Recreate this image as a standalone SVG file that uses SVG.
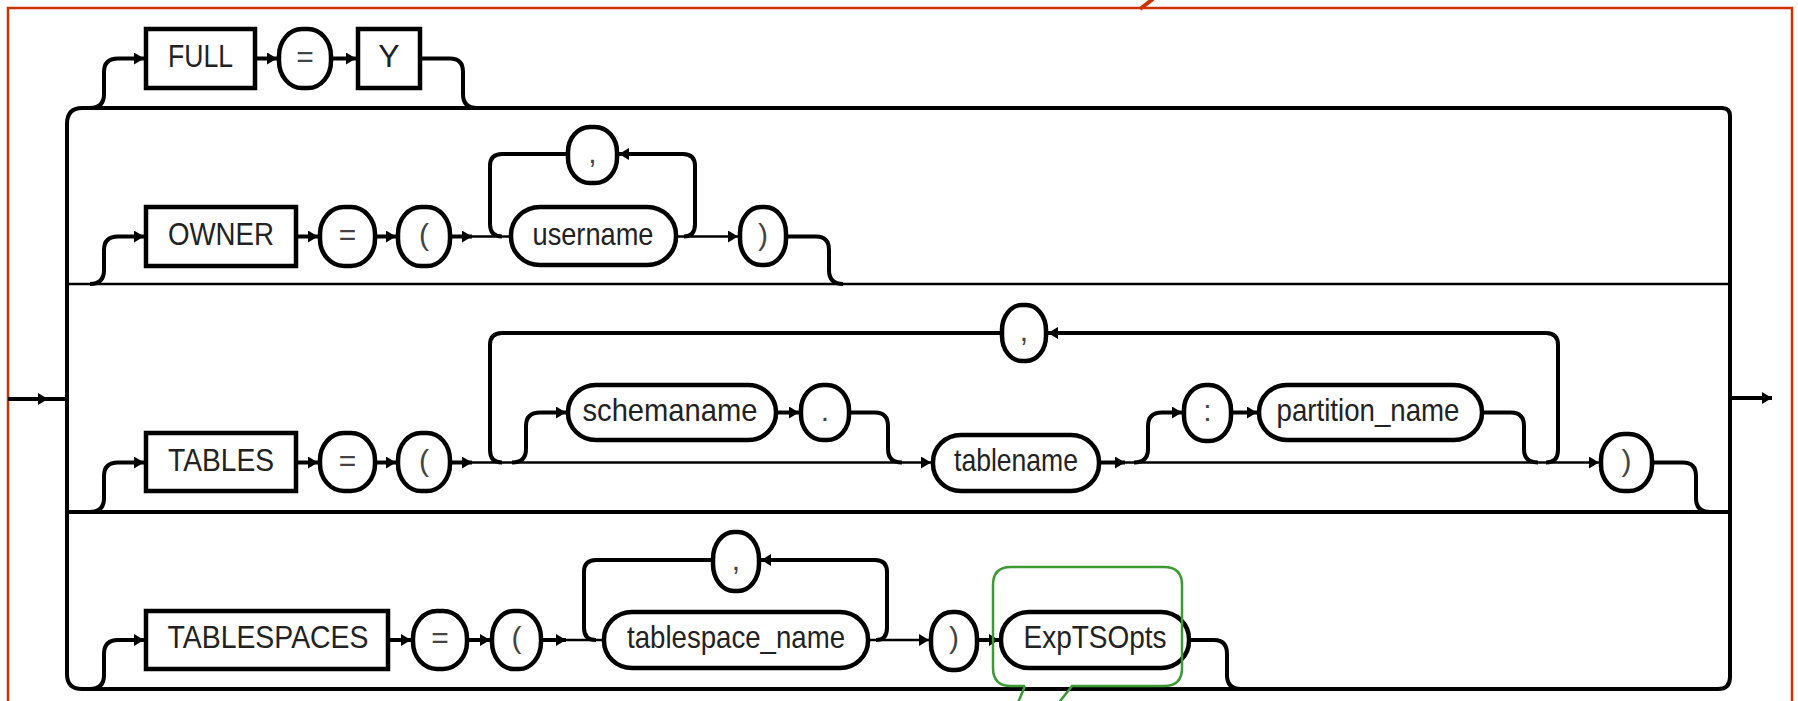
<svg xmlns="http://www.w3.org/2000/svg" width="1798" height="701" viewBox="0 0 1798 701">
<style>
.bx{fill:#fff;stroke:#000;stroke-width:4.5}
.ln{fill:none;stroke:#000;stroke-width:4}
.tn{fill:none;stroke:#000;stroke-width:2.5}
.t{font-family:"Liberation Sans",Arial,sans-serif;font-size:32px;fill:#222;text-anchor:middle}
.p{font-family:"Liberation Sans",Arial,sans-serif;font-size:30px;fill:#444;text-anchor:middle}
</style>
<defs>
<marker id="ah" viewBox="0 0 10 12" refX="10" refY="6" markerWidth="10" markerHeight="12" markerUnits="userSpaceOnUse" orient="auto"><path d="M0 0 L10 6 L0 12 Z" fill="#000"/></marker>
</defs>
<rect x="8" y="8" width="1784" height="720" fill="none" stroke="#cc3300" stroke-width="2.5"/>
<line x1="1140" y1="9" x2="1153" y2="-1" stroke="#cc3300" stroke-width="4"/>
<g id="connectors">
<path class="ln" d="M67 124 Q67 108 82 108 L1722 108 Q1730 108 1730 116 L1730 677 Q1730 689 1718 689 L82 689 Q67 689 67 674 Z"/>
<path class="tn" d="M67 284 L1730 284"/>
<path class="ln" d="M67 512 L1730 512"/>
<path class="ln" d="M8 399 L48 399" marker-end="url(#ah)"/>
<path class="ln" d="M44 399 L67 399"/>
<path class="ln" d="M1730 398 L1772 398" marker-end="url(#ah)"/>
<!-- FULL row -->
<path class="ln" d="M90 108 Q104 108 104 94 L104 72 Q104 58.5 118 58.5 L144 58.5" marker-end="url(#ah)"/>
<path class="ln" d="M257 58.5 L277 58.5" marker-end="url(#ah)"/>
<path class="ln" d="M333 58.5 L356 58.5" marker-end="url(#ah)"/>
<path class="ln" d="M422 58.5 L450 58.5 Q463 58.5 463 72 L463 94 Q463 108 477 108"/>
<!-- OWNER row -->
<path class="ln" d="M90 284 Q104 284 104 270 L104 250 Q104 236.5 118 236.5 L144 236.5" marker-end="url(#ah)"/>
<path class="ln" d="M298 236.5 L318 236.5" marker-end="url(#ah)"/>
<path class="ln" d="M377 236.5 L396 236.5" marker-end="url(#ah)"/>
<path class="ln" d="M452 236.5 L472 236.5" marker-end="url(#ah)"/>
<path class="tn" d="M468 236.5 L509 236.5"/>
<path class="ln" d="M502 236.5 Q490 236.5 490 224 L490 166 Q490 154 502 154 L566 154"/>
<path class="ln" d="M684 236.5 Q695 236.5 695 224 L695 166 Q695 154 683 154 L619 154" marker-end="url(#ah)"/>
<path class="tn" d="M678 236.5 L738 236.5" marker-end="url(#ah)"/>
<path class="ln" d="M788 236.5 L816 236.5 Q829 236.5 829 250 L829 270 Q829 284 843 284"/>
<!-- TABLES row -->
<path class="ln" d="M90 512 Q104 512 104 498 L104 476 Q104 462.5 118 462.5 L144 462.5" marker-end="url(#ah)"/>
<path class="ln" d="M298 462.5 L318 462.5" marker-end="url(#ah)"/>
<path class="ln" d="M377 462.5 L396 462.5" marker-end="url(#ah)"/>
<path class="ln" d="M452 462.5 L472 462.5" marker-end="url(#ah)"/>
<path class="tn" d="M468 462.5 L931 462.5" marker-end="url(#ah)"/>
<path class="ln" d="M1000 333 L502 333 Q490 333 490 345 L490 450 Q490 462.5 502 462.5"/>
<path class="ln" d="M1546 462.5 Q1558 462.5 1558 450 L1558 345 Q1558 333 1546 333 L1048 333" marker-end="url(#ah)"/>
<path class="ln" d="M512 462.5 Q526 462.5 526 449 L526 426 Q526 412.5 540 412.5 L566 412.5" marker-end="url(#ah)"/>
<path class="ln" d="M778 412.5 L799 412.5" marker-end="url(#ah)"/>
<path class="ln" d="M851 412.5 L875 412.5 Q888 412.5 888 426 L888 449 Q888 462.5 902 462.5"/>
<path class="ln" d="M1101 462.5 L1125 462.5" marker-end="url(#ah)"/>
<path class="tn" d="M1121 462.5 L1599 462.5" marker-end="url(#ah)"/>
<path class="ln" d="M1134 462.5 Q1148 462.5 1148 449 L1148 426 Q1148 412.5 1162 412.5 L1182 412.5" marker-end="url(#ah)"/>
<path class="ln" d="M1233 412.5 L1257 412.5" marker-end="url(#ah)"/>
<path class="ln" d="M1484 412.5 L1511 412.5 Q1524 412.5 1524 426 L1524 449 Q1524 462.5 1538 462.5"/>
<path class="ln" d="M1654 462.5 L1683 462.5 Q1696 462.5 1696 476 L1696 498 Q1696 512 1710 512"/>
<!-- TABLESPACES row -->
<path class="ln" d="M90 689 Q104 689 104 675 L104 654 Q104 640 118 640 L144 640" marker-end="url(#ah)"/>
<path class="ln" d="M390 640 L411 640" marker-end="url(#ah)"/>
<path class="ln" d="M469 640 L490 640" marker-end="url(#ah)"/>
<path class="ln" d="M543 640 L566 640" marker-end="url(#ah)"/>
<path class="tn" d="M562 640 L602 640"/>
<path class="ln" d="M711 560 L596 560 Q584 560 584 572 L584 628 Q584 640 596 640"/>
<path class="ln" d="M876 640 Q887 640 887 628 L887 572 Q887 560 875 560 L761 560" marker-end="url(#ah)"/>
<path class="tn" d="M870 640 L929 640" marker-end="url(#ah)"/>
<path class="ln" d="M979 640 L999 640" marker-end="url(#ah)"/>
<path class="ln" d="M1191 640 L1214 640 Q1227 640 1227 654 L1227 675 Q1227 689 1241 689"/>
</g>
<!-- FULL row nodes -->
<g id="full"><rect class="bx" x="146" y="29" width="109" height="59"/><text class="t" x="200.5" y="66.5" textLength="65" lengthAdjust="spacingAndGlyphs">FULL</text></g>
<g id="full-eq"><rect class="bx" x="279" y="29" width="52" height="59" rx="23" ry="27"/><text class="p" x="305" y="66.5">=</text></g>
<g id="full-y"><rect class="bx" x="358" y="29" width="62" height="59"/><text class="t" x="389" y="66.5">Y</text></g>
<!-- OWNER row nodes -->
<g id="owner"><rect class="bx" x="146" y="207" width="150" height="59"/><text class="t" x="221" y="244.5" textLength="106" lengthAdjust="spacingAndGlyphs">OWNER</text></g>
<g id="owner-eq"><rect class="bx" x="320" y="207" width="55" height="59" rx="24" ry="27"/><text class="p" x="347.5" y="244.5">=</text></g>
<g id="owner-lp"><rect class="bx" x="398" y="207" width="52" height="59" rx="23" ry="27"/><text class="p" x="424" y="244.5">(</text></g>
<g id="owner-comma"><rect class="bx" x="568" y="127" width="49" height="56" rx="22" ry="25"/><text class="p" x="592.5" y="163">,</text></g>
<g id="username"><rect class="bx" x="511" y="207" width="165" height="58" rx="29" ry="28"/><text class="t" x="593" y="244.5" textLength="121" lengthAdjust="spacingAndGlyphs">username</text></g>
<g id="owner-rp"><rect class="bx" x="740" y="207" width="46" height="58" rx="21" ry="26"/><text class="p" x="763" y="244.5">)</text></g>
<!-- TABLES row nodes -->
<g id="tables"><rect class="bx" x="146" y="433" width="150" height="58"/><text class="t" x="221" y="470.5" textLength="106" lengthAdjust="spacingAndGlyphs">TABLES</text></g>
<g id="tables-eq"><rect class="bx" x="320" y="433" width="55" height="58" rx="24" ry="27"/><text class="p" x="347.5" y="470.5">=</text></g>
<g id="tables-lp"><rect class="bx" x="398" y="433" width="52" height="58" rx="23" ry="27"/><text class="p" x="424" y="470.5">(</text></g>
<g id="tables-comma"><rect class="bx" x="1002" y="305" width="44" height="56" rx="20" ry="25"/><text class="p" x="1024" y="341">,</text></g>
<g id="schemaname"><rect class="bx" x="568" y="385" width="208" height="55" rx="28" ry="27"/><text class="t" x="670" y="420.5" textLength="175" lengthAdjust="spacingAndGlyphs">schemaname</text></g>
<g id="dot"><rect class="bx" x="801" y="385" width="48" height="55" rx="22" ry="25"/><text class="p" x="825" y="420.5">.</text></g>
<g id="tablename"><rect class="bx" x="933" y="435" width="166" height="56" rx="28" ry="27"/><text class="t" x="1016" y="471" textLength="124" lengthAdjust="spacingAndGlyphs">tablename</text></g>
<g id="colon"><rect class="bx" x="1184" y="385" width="47" height="56" rx="22" ry="25"/><text class="p" x="1207.5" y="420.5">:</text></g>
<g id="partition_name"><rect class="bx" x="1259" y="385" width="223" height="55" rx="28" ry="27"/><text class="t" x="1368" y="420.5" textLength="183" lengthAdjust="spacingAndGlyphs">partition_name</text></g>
<g id="tables-rp"><rect class="bx" x="1601" y="434" width="51" height="57" rx="23" ry="26"/><text class="p" x="1626.5" y="470.5">)</text></g>
<!-- TABLESPACES row nodes -->
<g id="tablespaces"><rect class="bx" x="146" y="611" width="242" height="58"/><text class="t" x="268" y="648" textLength="201" lengthAdjust="spacingAndGlyphs">TABLESPACES</text></g>
<g id="ts-eq"><rect class="bx" x="413" y="611" width="54" height="58" rx="24" ry="27"/><text class="p" x="440" y="648">=</text></g>
<g id="ts-lp"><rect class="bx" x="492" y="611" width="49" height="58" rx="22" ry="27"/><text class="p" x="516.5" y="648">(</text></g>
<g id="ts-comma"><rect class="bx" x="713" y="532" width="46" height="59" rx="21" ry="27"/><text class="p" x="736" y="570">,</text></g>
<g id="tablespace_name"><rect class="bx" x="604" y="612" width="264" height="56" rx="28" ry="27"/><text class="t" x="736" y="648" textLength="218" lengthAdjust="spacingAndGlyphs">tablespace_name</text></g>
<g id="ts-rp"><rect class="bx" x="931" y="612" width="46" height="58" rx="21" ry="26"/><text class="p" x="954" y="648">)</text></g>
<g id="exptsopts"><rect class="bx" x="1001" y="612" width="188" height="56" rx="28" ry="27"/><text class="t" x="1095" y="648" textLength="143" lengthAdjust="spacingAndGlyphs">ExpTSOpts</text></g>
<g id="callout"><path d="M1025 686 L1011 686 Q993 686 993 668 L993 585 Q993 567 1011 567 L1164 567 Q1182 567 1182 585 L1182 668 Q1182 686 1164 686 L1072 686 L1057 705 M1025 686 L1017 705" fill="none" stroke="#3c9a34" stroke-width="2.5"/></g>
</svg>
